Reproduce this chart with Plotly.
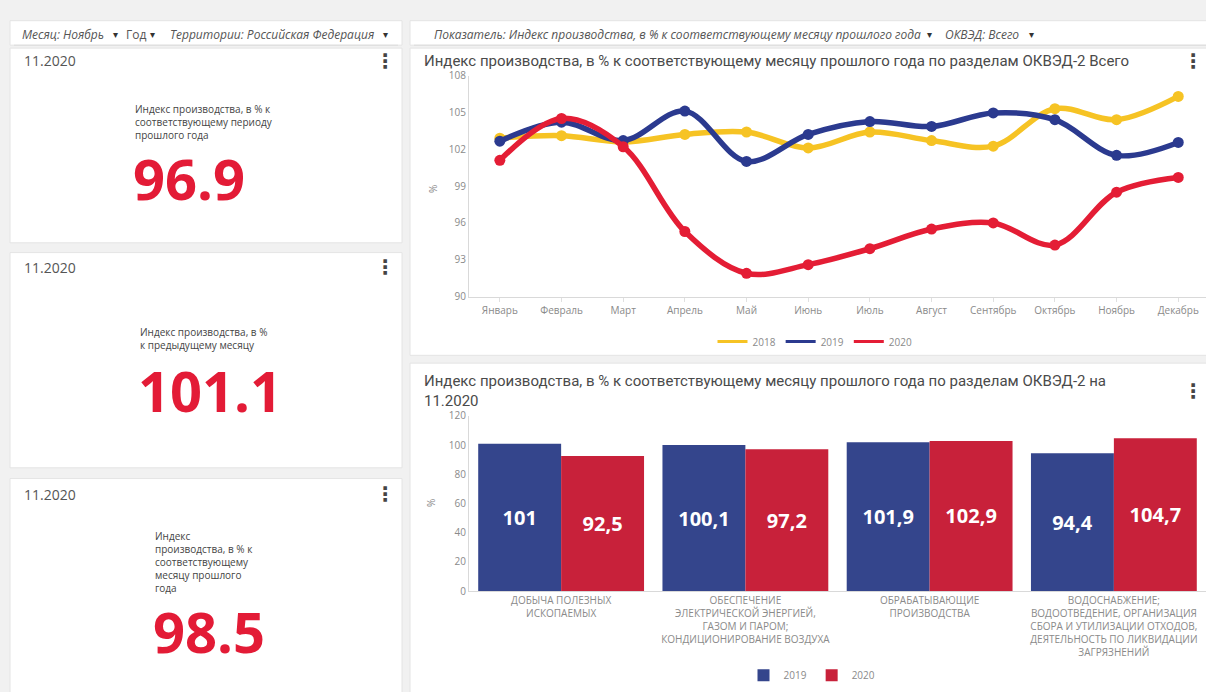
import plotly.graph_objects as go

W, H = 1206, 692


def px(x):
    return x / W


def py(y):
    return 1 - y / H


# ---------------- data ----------------
months = ["Январь", "Февраль", "Март", "Апрель", "Май", "Июнь",
          "Июль", "Август", "Сентябрь", "Октябрь", "Ноябрь", "Декабрь"]
line_years = ["2018", "2019", "2020"]
idx_2018 = [102.9, 103.1, 102.6, 103.2, 103.4, 102.1, 103.4, 102.7, 102.25, 105.3, 104.4, 106.3]
idx_2019 = [102.65, 104.2, 102.7, 105.1, 101.0, 103.2, 104.25, 103.85, 104.95, 104.4, 101.5, 102.55]
idx_2020 = [101.1, 104.5, 102.2, 95.3, 91.9, 92.6, 93.9, 95.5, 96.0, 94.2, 98.5, 99.7]
line_ticks = [90, 93, 96, 99, 102, 105, 108]

sections = [
    "ДОБЫЧА ПОЛЕЗНЫХ<br>ИСКОПАЕМЫХ",
    "ОБЕСПЕЧЕНИЕ<br>ЭЛЕКТРИЧЕСКОЙ ЭНЕРГИЕЙ,<br>ГАЗОМ И ПАРОМ;<br>КОНДИЦИОНИРОВАНИЕ ВОЗДУХА",
    "ОБРАБАТЫВАЮЩИЕ<br>ПРОИЗВОДСТВА",
    "ВОДОСНАБЖЕНИЕ;<br>ВОДООТВЕДЕНИЕ, ОРГАНИЗАЦИЯ<br>СБОРА И УТИЛИЗАЦИИ ОТХОДОВ,<br>ДЕЯТЕЛЬНОСТЬ ПО ЛИКВИДАЦИИ<br>ЗАГРЯЗНЕНИЙ",
]
bar_years = ["2019", "2020"]
sec_2019 = [101, 100.1, 101.9, 94.4]
sec_2020 = [92.5, 97.2, 102.9, 104.7]
bar_ticks = [0, 20, 40, 60, 80, 100, 120]

kpi_period = "11.2020"
kpi_labels = [
    "Индекс производства, в % к<br>соответствующему периоду<br>прошлого года",
    "Индекс производства, в %<br>к предыдущему месяцу",
    "Индекс<br>производства, в % к<br>соответствующему<br>месяцу прошлого<br>года",
]
kpi_values = [96.9, 101.1, 98.5]

line_title = "Индекс производства, в % к соответствующему месяцу прошлого года по разделам ОКВЭД-2 Всего"
bar_title = "Индекс производства, в % к соответствующему месяцу прошлого года по разделам ОКВЭД-2 на<br>11.2020"

# ---------------- styles ----------------
C_2018 = "#f6c324"
C_2019 = "#2b3a8f"
C_2020 = "#e41d35"
BAR_2019 = "#34458c"
BAR_2020 = "#c8213a"
GREY_TXT = "#8a8a8a"
DARK_TXT = "#4a4a4a"
KPI_RED = "#e31b36"

fig = go.Figure()

for name, vals, col in zip(line_years, [idx_2018, idx_2019, idx_2020], [C_2018, C_2019, C_2020]):
    fig.add_trace(go.Scatter(
        x=months, y=vals, name=name, mode="lines+markers",
        line=dict(color=col, width=5.5, shape="spline", smoothing=1.0),
        marker=dict(color=col, size=11),
        xaxis="x", yaxis="y", showlegend=False,
    ))
# legend entries (line-only symbols, as in the reference)
for name, col in zip(line_years, [C_2018, C_2019, C_2020]):
    fig.add_trace(go.Scatter(
        x=[None], y=[None], name=name, mode="lines",
        line=dict(color=col, width=3, shape="spline"),
        xaxis="x", yaxis="y", legend="legend",
    ))


def fmt(v):
    return f"{v:g}".replace(".", ",")


for name, vals, col in zip(bar_years, [sec_2019, sec_2020], [BAR_2019, BAR_2020]):
    fig.add_trace(go.Bar(
        x=sections, y=vals, name=name,
        marker=dict(color=col, line=dict(width=0)),
        text=[fmt(v) for v in vals], textposition="inside",
        insidetextanchor="middle", textangle=0,
        textfont=dict(family="Open Sans", size=20, color="white", weight="bold"),
        xaxis="x2", yaxis="y2", legend="legend2",
    ))

# ---------------- background cards ----------------
shapes = []
cards = [
    (10, 13, 402, 38), (10, 41, 402, 240), (10, 250, 402, 470), (10, 481, 402, 700),
    (410, 13, 1210, 38), (410, 41, 1210, 355), (410, 363, 1210, 700),
]
for x0, y0, x1, y1 in cards:
    shapes.append(dict(type="rect", xref="paper", yref="paper",
                       x0=px(x0), x1=px(x1), y0=py(y1), y1=py(y0),
                       fillcolor="white", line=dict(color="#e4e4e4", width=1), layer="below"))
for x0, x1 in [(14, 398), (414, 1206)]:
    shapes.append(dict(type="line", xref="paper", yref="paper",
                       x0=px(x0), x1=px(x1), y0=py(38), y1=py(38),
                       line=dict(color="#dcdcdc", width=1), layer="below"))

ann = []


def text(x, y, s, size=12, color=DARK_TXT, family="Open Sans", xanchor="left",
         yanchor="middle", angle=0, weight="normal", style="normal"):
    ann.append(dict(x=px(x), y=py(y), xref="paper", yref="paper", text=s, showarrow=False,
                    xanchor=xanchor, yanchor=yanchor, textangle=angle, align="left",
                    font=dict(family=family, size=size, color=color, weight=weight, style=style)))


# filter strips
text(20, 27, "Месяц: Ноябрь", 12, "#555", style="italic")
text(111, 27, "▾", 10, "#333")
text(124, 27, "Год", 12, "#555")
text(148, 27, "▾", 10, "#333")
text(168, 27, "Территории: Российская Федерация", 12, "#555", style="italic")
text(381, 27, "▾", 10, "#333")
text(432, 27, "Показатель: Индекс производства, в % к соответствующему месяцу прошлого года", 12, "#555", style="italic")
text(925, 27, "▾", 10, "#333")
text(943, 27, "ОКВЭД: Всего", 12, "#555", style="italic")
text(1027, 27, "▾", 10, "#333")

# KPI cards
header_y = [54, 265, 497]
label_x = [133, 138, 153]
label_top = [94, 322, 531]
value_y = [174, 390, 637]
for i in range(3):
    text(22, header_y[i], kpi_period, 14, "#555")
    text(385, header_y[i], "⋮", 20, "#444", family="DejaVu Sans", xanchor="center", weight="bold")
    text(label_x[i], label_top[i], kpi_labels[i], 10, "#444", yanchor="top")
    text(label_x[i] - 2, value_y[i], f"{kpi_values[i]:.1f}", 56, KPI_RED, weight="bold")

# chart titles
text(422, 54, line_title, 15, DARK_TXT, family="Roboto")
text(1193, 54, "⋮", 20, "#444", family="DejaVu Sans", xanchor="center", weight="bold")
text(422, 391, bar_title, 15, DARK_TXT, family="Roboto")
text(1193, 391, "⋮", 20, "#444", family="DejaVu Sans", xanchor="center", weight="bold")

# axis unit labels
text(433, 185, "%", 10, GREY_TXT, xanchor="center", angle=-90)
text(431, 506, "%", 10, GREY_TXT, xanchor="center", angle=-90)

axis_common = dict(showgrid=False, zeroline=False, linecolor="#d9d9d9", linewidth=1,
                   tickfont=dict(family="Open Sans", size=10, color=GREY_TXT))

fig.update_layout(
    width=W, height=H, autosize=False,
    margin=dict(l=0, r=0, t=0, b=0),
    paper_bgcolor="#f1f1f1", plot_bgcolor="rgba(0,0,0,0)",
    shapes=shapes, annotations=ann,
    barmode="group", bargap=0.1, bargroupgap=0,
    xaxis=dict(domain=[px(469), 1.0], range=[-0.5, 11.45], type="category",
               showline=True, ticks="outside", ticklen=4, tickcolor="#e0e0e0",
               anchor="y", **axis_common),
    yaxis=dict(domain=[py(295), py(69)], range=[90, 108], tickvals=line_ticks,
               showline=True, ticks="", anchor="x", **axis_common),
    xaxis2=dict(domain=[px(469), 1.0], range=[-0.5, 3.5], type="category",
                showline=True, ticks="", anchor="y2", tickangle=0, **axis_common),
    yaxis2=dict(domain=[py(596), py(417)], range=[0, 120], tickvals=bar_ticks,
                showline=True, ticks="", anchor="x2", **axis_common),
    legend=dict(orientation="h", x=px(815), y=py(341), xanchor="center", yanchor="middle",
                bgcolor="rgba(0,0,0,0)", font=dict(family="Open Sans", size=10, color=GREY_TXT),
                itemwidth=30),
    legend2=dict(orientation="h", x=px(812), y=py(682), xanchor="center", yanchor="middle",
                 bgcolor="rgba(0,0,0,0)", font=dict(family="Open Sans", size=10, color=GREY_TXT),
                 itemwidth=30),
    showlegend=True,
)

fig.write_html(
    "out.html",
    config={"displayModeBar": False},
    post_script="document.body.style.margin='0';document.body.style.overflow='hidden';"
                "document.documentElement.style.overflow='hidden';",
)
